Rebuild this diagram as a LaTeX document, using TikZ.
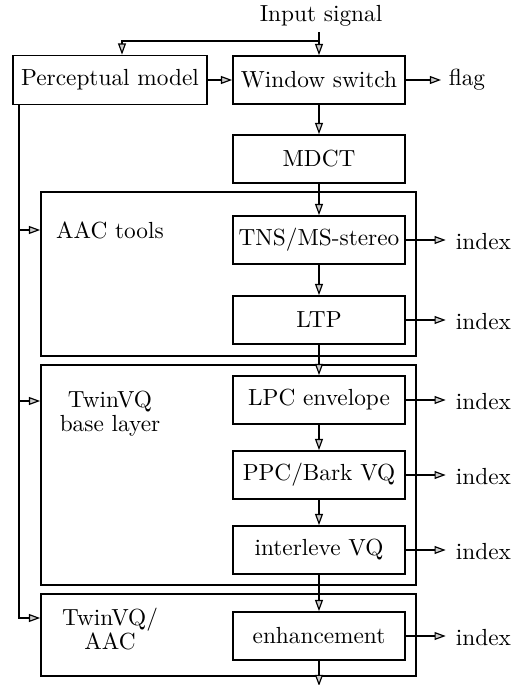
\documentclass[tikz,border=0pt]{standalone}
\usetikzlibrary{arrows.meta}
\begin{document}
\begin{tikzpicture}[x=0.4292pt,y=-0.4292pt,
  line width=0.75pt,
  blk/.style={draw,rectangle,inner sep=0pt,minimum width=172*0.4292pt,minimum height=48*0.4292pt,font=\fontsize{10}{12}\selectfont},
  outer/.style={draw,rectangle,inner sep=0pt,minimum width=375*0.4292pt},
  lab/.style={inner sep=0pt,align=center,font=\fontsize{10}{10.2}\selectfont},
  txt/.style={inner sep=0pt,font=\fontsize{10}{12}\selectfont},
  arr/.style={-{Triangle[length=4.8pt,width=3.4pt,fill=gray!40,line width=0.5pt]}}]
\useasboundingbox (0,0) rectangle (528,685);
% outer boxes
\node[outer,minimum height=164*0.4292pt] (aac) at (228.5,274) {};
\node[outer,minimum height=220*0.4292pt] (twin) at (228.5,475) {};
\node[outer,minimum height=82*0.4292pt] (enho) at (228.5,635) {};
% blocks
\node[blk,minimum width=194*0.4292pt,minimum height=49*0.4292pt] (pm) at (110,80) {Perceptual model};
\node[blk] (ws) at (319,80) {Window switch};
\node[blk] (mdct) at (319,159) {MDCT};
\node[blk] (tns) at (319,240) {TNS/MS-stereo};
\node[blk] (ltp) at (319,320) {LTP};
\node[blk] (lpc) at (319,400) {LPC envelope};
\node[blk] (ppc) at (319,475) {PPC/Bark VQ};
\node[blk] (ilv) at (319,550) {interleve VQ};
\node[blk] (enh) at (319,636) {enhancement};
% labels
\node[txt] (in) at (321,16) {Input signal};
\node[txt,anchor=west] (flag) at (448,80) {flag};
\node[txt,anchor=west] (i1) at (455,242) {index};
\node[txt,anchor=west] (i2) at (455,322) {index};
\node[txt,anchor=west] (i3) at (455,402) {index};
\node[txt,anchor=west] (i4) at (455,477) {index};
\node[txt,anchor=west] (i5) at (455,552) {index};
\node[txt,anchor=west] (i6) at (455,638) {index};
\node[txt] (aaclab) at (110,230) {AAC tools};
\node[lab,anchor=north] (twinlab) at (110,390) {TwinVQ\\base layer};
\node[lab,anchor=north] (enhlab) at (110,607) {TwinVQ/\\AAC};
% coordinates
\coordinate (split) at (319,41);
\coordinate (outp) at (319,686);
\coordinate (lft) at ([xshift=7*0.4292pt]pm.south west);
\coordinate (ya) at (0,230);
\coordinate (yb) at (0,401);
\coordinate (yc) at (0,618);
% connectors
\draw[arr] ([yshift=-2pt]ws.north |- in.south) -- (ws.north);
\draw[arr] (split) -| ([xshift=12*0.4292pt]pm.north);
\draw[arr] (pm.east) -- (ws.west);
\draw[arr] (ws.east) -- ([xshift=-3pt]flag.west);
\draw[arr] (ws.south) -- (mdct.north);
\draw[arr] (mdct.south) -- (tns.north);
\draw[arr] (tns.south) -- (ltp.north);
\draw[arr] (ltp.south) -- (lpc.north);
\draw[arr] (lpc.south) -- (ppc.north);
\draw[arr] (ppc.south) -- (ilv.north);
\draw[arr] (ilv.south) -- (enh.north);
\draw[arr] (enh.south) -- (outp);
\draw[arr] (tns.east) -- ([xshift=-4pt]i1.west |- tns.east);
\draw[arr] (ltp.east) -- ([xshift=-4pt]i2.west |- ltp.east);
\draw[arr] (lpc.east) -- ([xshift=-4pt]i3.west |- lpc.east);
\draw[arr] (ppc.east) -- ([xshift=-4pt]i4.west |- ppc.east);
\draw[arr] (ilv.east) -- ([xshift=-4pt]i5.west |- ilv.east);
\draw[arr] (enh.east) -- ([xshift=-4pt]i6.west |- enh.east);
\draw[arr] (lft) |- (enho.west |- yc);
\draw[arr] (lft |- ya) -- (aac.west |- ya);
\draw[arr] (lft |- yb) -- (twin.west |- yb);
\end{tikzpicture}
\end{document}
